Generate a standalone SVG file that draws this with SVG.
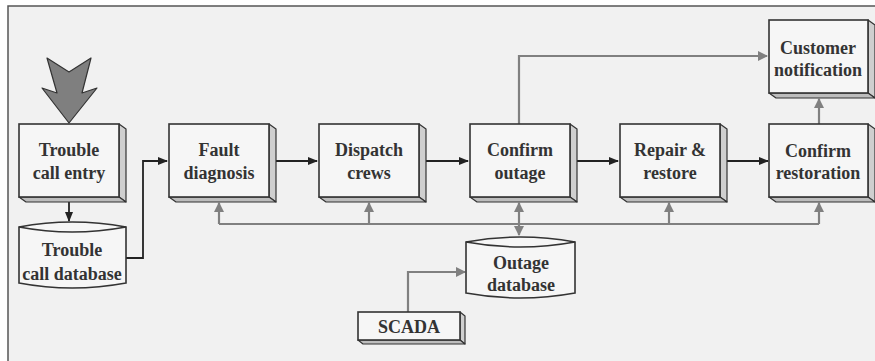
<svg xmlns="http://www.w3.org/2000/svg" width="875" height="361" viewBox="0 0 875 361">
  <defs>
    <style>
      .face { fill: #f6f6f6; stroke: #333; stroke-width: 1.6; }
      .side { fill: #cfcfcf; stroke: #333; stroke-width: 1.2; stroke-linejoin: round; }
      .bot { fill: #bdbdbd; stroke: #333; stroke-width: 1.2; stroke-linejoin: round; }
      .lbl { font-family: 'Liberation Serif', 'Times New Roman', Times, 'DejaVu Serif', serif; font-weight: 700; font-size: 18px; fill: #333; text-anchor: middle; }
      .blk { fill: none; stroke: #222; stroke-width: 1.8; }
      .gry { fill: none; stroke: #808080; stroke-width: 2.2; }
    </style>
    <marker id="ahB" markerWidth="10" markerHeight="8" refX="9" refY="4" orient="auto" markerUnits="userSpaceOnUse">
      <path d="M0,0 L10,4 L0,8 Z" fill="#222"/>
    </marker>
    <marker id="ahG" markerWidth="10" markerHeight="10" refX="9" refY="5" orient="auto-start-reverse" markerUnits="userSpaceOnUse">
      <path d="M0,0 L10,5 L0,10 Z" fill="#808080"/>
    </marker>
  </defs>

  <!-- canvas -->
  <rect x="0" y="0" width="875" height="361" fill="#ffffff"/>
  <rect x="8" y="6" width="867" height="355" fill="#f1f1f1"/>
  <path d="M8,361 L8,6 L875,6" fill="none" stroke="#555" stroke-width="1.5"/>

  <!-- connectors -->
  <g id="connectors">
    <!-- main flow -->
    <path class="blk" d="M69,201 L69,221" marker-end="url(#ahB)"/>
    <path class="blk" d="M126,258 L143,258 L143,161 L167,161" marker-end="url(#ahB)"/>
    <path class="blk" d="M269,161 L317,161" marker-end="url(#ahB)"/>
    <path class="blk" d="M420,161 L468,161" marker-end="url(#ahB)"/>
    <path class="blk" d="M570,161 L618,161" marker-end="url(#ahB)"/>
    <path class="blk" d="M720,161 L768,161" marker-end="url(#ahB)"/>
    <!-- feedback bus -->
    <path class="gry" d="M219,224 L819,224"/>
    <path class="gry" d="M219,224 L219,203" marker-end="url(#ahG)"/>
    <path class="gry" d="M369,224 L369,203" marker-end="url(#ahG)"/>
    <path class="gry" d="M669,224 L669,203" marker-end="url(#ahG)"/>
    <path class="gry" d="M819,224 L819,203" marker-end="url(#ahG)"/>
    <path class="gry" d="M519,203 L519,235" marker-start="url(#ahG)" marker-end="url(#ahG)"/>
    <!-- notification -->
    <path class="gry" d="M519,124 L519,56 L767,56" marker-end="url(#ahG)"/>
    <path class="gry" d="M819,124 L819,99" marker-end="url(#ahG)"/>
    <!-- SCADA feed -->
    <path class="gry" d="M408,312 L408,272 L465,272" marker-end="url(#ahG)"/>
  </g>

  <!-- incoming calls -->
  <g id="incoming">
    <polygon points="47,58 69,72 91,58 82,93 97,88 69,123 42,88 57,93" fill="#7f7f7f" stroke="#333" stroke-width="1.2" stroke-linejoin="round"/>
  </g>

  <g id="trouble-call-entry">
    <polygon class="side" points="119,124 126,129 126,202 119,197"/>
    <polygon class="bot" points="19,197 119,197 126,202 26,202"/>
    <rect class="face" x="19" y="124" width="100" height="73"/>
    <text class="lbl" x="69" y="156">Trouble</text>
    <text class="lbl" x="69" y="179">call entry</text>
  </g>

  <g id="fault-diagnosis">
    <polygon class="side" points="269,124 276,129 276,202 269,197"/>
    <polygon class="bot" points="169,197 269,197 276,202 176,202"/>
    <rect class="face" x="169" y="124" width="100" height="73"/>
    <text class="lbl" x="219" y="156">Fault</text>
    <text class="lbl" x="219" y="179">diagnosis</text>
  </g>

  <g id="dispatch-crews">
    <polygon class="side" points="419,124 426,129 426,202 419,197"/>
    <polygon class="bot" points="319,197 419,197 426,202 326,202"/>
    <rect class="face" x="319" y="124" width="100" height="73"/>
    <text class="lbl" x="369" y="156">Dispatch</text>
    <text class="lbl" x="369" y="179">crews</text>
  </g>

  <g id="confirm-outage">
    <polygon class="side" points="570,124 577,129 577,202 570,197"/>
    <polygon class="bot" points="470,197 570,197 577,202 477,202"/>
    <rect class="face" x="470" y="124" width="100" height="73"/>
    <text class="lbl" x="520" y="156">Confirm</text>
    <text class="lbl" x="520" y="179">outage</text>
  </g>

  <g id="repair-restore">
    <polygon class="side" points="720,124 727,129 727,202 720,197"/>
    <polygon class="bot" points="620,197 720,197 727,202 627,202"/>
    <rect class="face" x="620" y="124" width="100" height="73"/>
    <text class="lbl" x="670" y="156">Repair &amp;</text>
    <text class="lbl" x="670" y="179">restore</text>
  </g>

  <g id="confirm-restoration">
    <polygon class="side" points="868,124 875,129 875,202 868,197"/>
    <polygon class="bot" points="769,197 868,197 875,202 776,202"/>
    <rect class="face" x="769" y="124" width="99" height="73"/>
    <text class="lbl" x="818" y="157">Confirm</text>
    <text class="lbl" x="818" y="179">restoration</text>
  </g>

  <g id="customer-notification">
    <polygon class="side" points="868,20 875,25 875,98 868,93"/>
    <polygon class="bot" points="769,93 868,93 875,98 776,98"/>
    <rect class="face" x="769" y="20" width="99" height="73"/>
    <text class="lbl" x="818" y="54">Customer</text>
    <text class="lbl" x="818" y="76">notification</text>
  </g>

  <g id="trouble-call-database">
    <path class="face" d="M19,227 Q72,217 126,227 L126,283 Q72,293 19,283 Z"/>
    <path d="M19,227 Q72,237 126,227" fill="none" stroke="#333" stroke-width="1.6"/>
    <text class="lbl" x="72" y="256">Trouble</text>
    <text class="lbl" x="72" y="280">call database</text>
  </g>

  <g id="outage-database">
    <path class="face" d="M466,242 Q520,232 575,242 L575,293 Q520,303 466,293 Z"/>
    <path d="M466,242 Q520,252 575,242" fill="none" stroke="#333" stroke-width="1.6"/>
    <text class="lbl" x="521" y="269">Outage</text>
    <text class="lbl" x="521" y="291">database</text>
  </g>

  <g id="scada">
    <polygon class="side" points="460,312 465,316 465,344 460,340"/>
    <polygon class="bot" points="358,340 460,340 465,344 363,344"/>
    <rect class="face" x="358" y="312" width="102" height="28"/>
    <text class="lbl" x="409" y="333">SCADA</text>
  </g>
</svg>
